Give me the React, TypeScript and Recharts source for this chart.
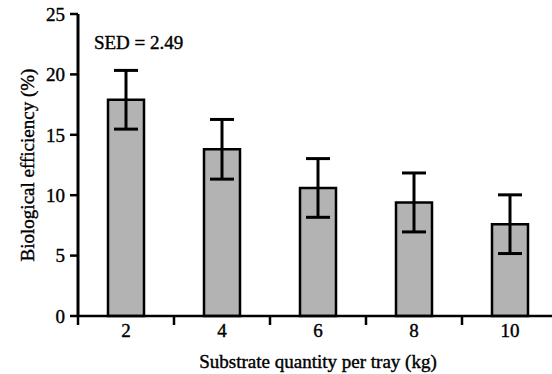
import {
  BarChart,
  Bar,
  XAxis,
  YAxis,
  ErrorBar,
  ReferenceDot,
} from "recharts";

// substrate quantity per tray (kg)
const quantities = [2, 4, 6, 8, 10];
// biological efficiency (%)
const efficiency = [17.9, 13.8, 10.6, 9.4, 7.6];
// error bar half-lengths
const errors = [2.43, 2.47, 2.43, 2.44, 2.43];

const yTicks = [0, 5, 10, 15, 20, 25];
// tick marks sit between the bars
const xBoundaries = [1, 3, 5, 7, 9, 11];

const sedText = "SED = 2.49";

const data = quantities.map((q, i) => ({
  q,
  eff: efficiency[i],
  err: errors[i],
}));

const allXTicks = [...xBoundaries, ...quantities].sort((a, b) => a - b);

const FONT = 19;
const SERIF = "'Liberation Serif', Tinos, 'Times New Roman', Times, 'DejaVu Serif', serif";
// a thin outline makes the glyphs as heavy as in the scan
const textStyle = {
  fontSize: FONT,
  fill: "#000",
  stroke: "#000",
  strokeWidth: 0.4,
  style: { fontFamily: SERIF },
};

function XTick(props: any) {
  const { x, y, payload } = props;
  if (quantities.includes(payload.value)) {
    return (
      <text x={x} y={y + 8} dy="0.71em" textAnchor="middle" {...textStyle}>
        {payload.value}
      </text>
    );
  }
  return <line x1={x} x2={x} y1={y} y2={y + 9} stroke="#000" strokeWidth={2.5} />;
}

export default function App() {
  return (
    <div
      style={{
        position: "absolute",
        left: 0,
        top: 0,
        width: 552,
        height: 374,
        background: "#fff",
        fontFamily: SERIF,
      }}
    >
      <BarChart
        width={552}
        height={374}
        data={data}
        margin={{ top: 14, right: -6, bottom: 6, left: 0 }}
        style={{ fontFamily: SERIF }}
      >
        <XAxis
          dataKey="q"
          type="number"
          domain={[1, 11]}
          ticks={allXTicks}
          interval={0}
          tick={<XTick />}
          tickLine={false}
          tickSize={0}
          tickMargin={0}
          height={52}
          axisLine={{ stroke: "#000", strokeWidth: 2.5 }}
          label={{
            value: "Substrate quantity per tray (kg)",
            position: "insideBottom",
            offset: 0,
            ...textStyle,
          }}
        />
        <YAxis
          domain={[0, 25]}
          ticks={yTicks}
          width={78}
          tickSize={8}
          tickMargin={5}
          tick={textStyle}
          tickLine={{ stroke: "#000", strokeWidth: 2.5 }}
          axisLine={{ stroke: "#000", strokeWidth: 3 }}
          label={{
            value: "Biological efficiency (%)",
            angle: -90,
            position: "insideLeft",
            offset: 27,
            textAnchor: "middle",
            ...textStyle,
          }}
        />
        <Bar
          dataKey="eff"
          barSize={36}
          fill="#b3b3b3"
          stroke="#000"
          strokeWidth={2.5}
          isAnimationActive={false}
        >
          <ErrorBar
            dataKey="err"
            width={12}
            stroke="#000"
            strokeWidth={3}
            isAnimationActive={false}
          />
        </Bar>
        <ReferenceDot
          x={1.31}
          y={22.68}
          r={1}
          fill="none"
          stroke="none"
          label={{
            value: sedText,
            position: "right",
            offset: 0,
            ...textStyle,
          }}
        />
      </BarChart>
    </div>
  );
}
